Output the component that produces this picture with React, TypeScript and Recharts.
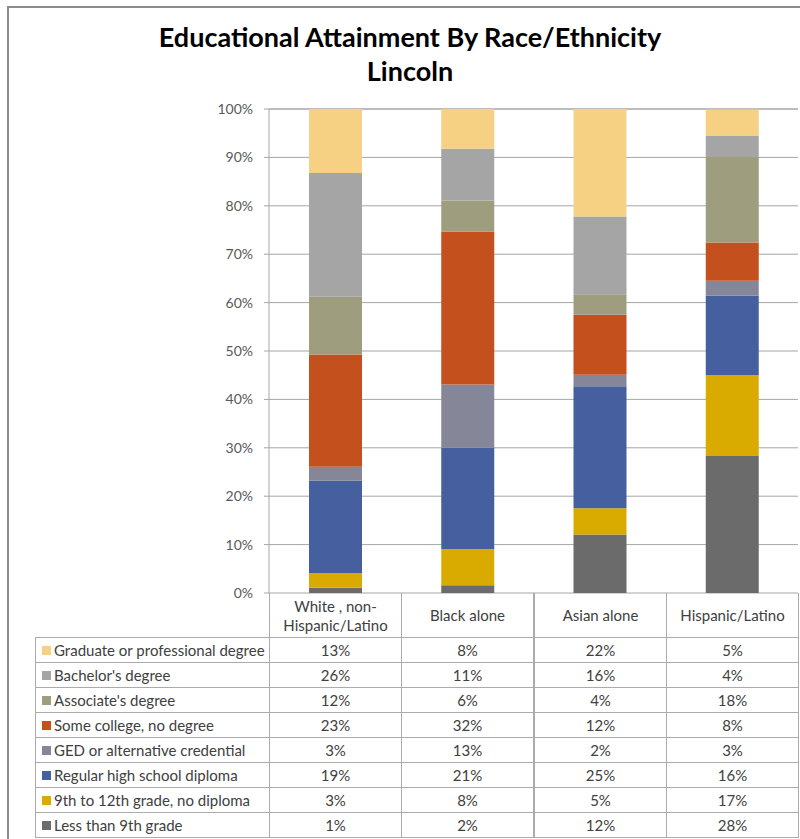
import React from 'react';
import { BarChart, Bar, XAxis, YAxis, CartesianGrid } from 'recharts';

const categories = ['White , non-Hispanic/Latino', 'Black alone', 'Asian alone', 'Hispanic/Latino'];

// stacked bottom -> top
const lessThan9th = [1.1, 1.6, 12.1, 28.3];
const grade9to12 = [3.0, 7.5, 5.4, 16.7];
const highSchool = [19.1, 20.9, 25.2, 16.4];
const gedCredential = [2.9, 13.1, 2.4, 3.1];
const someCollege = [23.2, 31.6, 12.4, 7.9];
const associates = [11.9, 6.4, 4.2, 17.7];
const bachelors = [25.6, 10.7, 16.1, 4.4];
const graduate = [13.2, 8.2, 22.2, 5.4];

const yTicks = [0, 10, 20, 30, 40, 50, 60, 70, 80, 90, 100];

const series = [
  { key: 'less', name: 'Less than 9th grade', values: lessThan9th, color: '#6B6B6B' },
  { key: 'g912', name: '9th to 12th grade, no diploma', values: grade9to12, color: '#D9AB00' },
  { key: 'hs', name: 'Regular high school diploma', values: highSchool, color: '#465F9E' },
  { key: 'ged', name: 'GED or alternative credential', values: gedCredential, color: '#858799' },
  { key: 'some', name: 'Some college, no degree', values: someCollege, color: '#C4501E' },
  { key: 'assoc', name: "Associate's degree", values: associates, color: '#9E9E7F' },
  { key: 'bach', name: "Bachelor's degree", values: bachelors, color: '#A5A5A5' },
  { key: 'grad', name: 'Graduate or professional degree', values: graduate, color: '#F6D184' },
];

const data = categories.map((name, i) => {
  const row: Record<string, any> = { name };
  series.forEach((s) => (row[s.key] = s.values[i]));
  return row;
});

const FONT = 'Lato, "Open Sans", sans-serif';
const PLOT_LEFT = 269;
const PLOT_RIGHT = 798;
const AXIS_Y = 593;
const COL_W = (PLOT_RIGHT - PLOT_LEFT) / categories.length;
const TABLE_LEFT = 35;
const HEADER_H = 44;
const ROW_H = 25;
const BORDER = '#ABABAB';

export default function App() {
  const tableRows = [...series].reverse();
  return (
    <div
      style={{
        position: 'absolute',
        left: 0,
        top: 0,
        width: 800,
        height: 839,
        overflow: 'hidden',
        background: '#fff',
        fontFamily: FONT,
      }}
    >
      <div
        style={{
          position: 'absolute',
          left: 7,
          top: 6,
          width: 800,
          height: 900,
          borderLeft: '2px solid #8C8C8C',
          borderTop: '2px solid #8C8C8C',
        }}
      />
      <div
        style={{
          position: 'absolute',
          left: 10,
          width: 800,
          top: 20,
          textAlign: 'center',
          fontSize: 27,
          fontWeight: 700,
          lineHeight: '34px',
          color: '#000',
        }}
      >
        <div>Educational Attainment By Race/Ethnicity</div>
        <div>Lincoln</div>
      </div>
      <div style={{ position: 'absolute', left: 0, top: 0 }}>
        <BarChart
          width={800}
          height={839}
          data={data}
          margin={{ top: 109, right: 800 - PLOT_RIGHT, bottom: 839 - AXIS_Y, left: 0 }}
          barSize={53}
        >
          <CartesianGrid vertical={false} stroke="#A6A6A6" />
          <XAxis dataKey="name" tick={false} height={0} axisLine={{ stroke: '#A6A6A6' }} tickLine={false} />
          <YAxis
            width={PLOT_LEFT}
            domain={[0, 100]}
            ticks={yTicks}
            tickFormatter={(v) => `${v}%`}
            axisLine={{ stroke: '#A6A6A6' }}
            tickLine={{ stroke: '#A6A6A6' }}
            tickSize={5}
            tickMargin={11}
            tick={{ fill: '#595959', fontSize: 14, fontFamily: FONT }}
          />
          {series.map((s) => (
            <Bar key={s.key} dataKey={s.key} name={s.name} stackId="a" fill={s.color} isAnimationActive={false} />
          ))}
        </BarChart>
      </div>

      {/* data table under the plot */}
      {categories.map((c, i) => (
        <div
          key={c}
          style={{
            position: 'absolute',
            left: Math.round(PLOT_LEFT + i * COL_W),
            top: AXIS_Y,
            width: Math.round(COL_W) + 1,
            height: HEADER_H + 1,
            boxSizing: 'border-box',
            borderLeft: `1px solid ${BORDER}`,
            borderRight: `1px solid ${BORDER}`,
            display: 'flex',
            alignItems: 'center',
            justifyContent: 'center',
            textAlign: 'center',
            fontSize: 15,
            lineHeight: '19px',
            color: '#404040',
            padding: '0 12px',
          }}
        >
          {c}
        </div>
      ))}
      {tableRows.map((s, r) => {
        const top = AXIS_Y + HEADER_H + r * ROW_H;
        return (
          <React.Fragment key={s.key}>
            <div
              style={{
                position: 'absolute',
                left: TABLE_LEFT,
                top,
                width: PLOT_LEFT - TABLE_LEFT + 1,
                height: ROW_H + 1,
                boxSizing: 'border-box',
                border: `1px solid ${BORDER}`,
                display: 'flex',
                alignItems: 'center',
                fontSize: 15,
                color: '#404040',
                whiteSpace: 'nowrap',
              }}
            >
              <span
                style={{
                  display: 'inline-block',
                  width: 9,
                  height: 9,
                  background: s.color,
                  marginLeft: 6,
                  marginRight: 3,
                }}
              />
              {s.name}
            </div>
            {categories.map((c, i) => (
              <div
                key={c}
                style={{
                  position: 'absolute',
                  left: Math.round(PLOT_LEFT + i * COL_W),
                  top,
                  width: Math.round(COL_W) + 1,
                  height: ROW_H + 1,
                  boxSizing: 'border-box',
                  border: `1px solid ${BORDER}`,
                  display: 'flex',
                  alignItems: 'center',
                  justifyContent: 'center',
                  fontSize: 15,
                  color: '#404040',
                }}
              >
                {Math.round(s.values[i])}%
              </div>
            ))}
          </React.Fragment>
        );
      })}
    </div>
  );
}
